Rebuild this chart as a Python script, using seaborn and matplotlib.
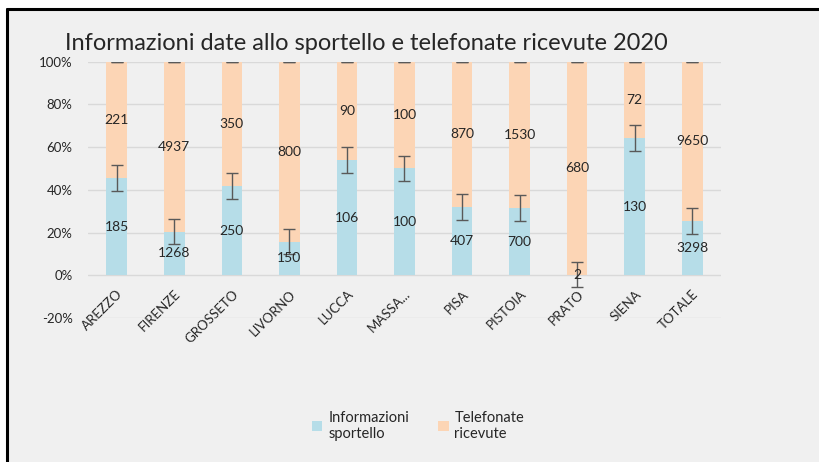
"""Informazioni sportello vs telefonate ricevute 2020 - 100% stacked bars."""

import matplotlib

matplotlib.use("agg")
import matplotlib.pyplot as plt
import numpy as np
import pandas as pd
import seaborn as sns
from matplotlib.lines import Line2D
from matplotlib.patches import Patch, Rectangle

CATEGORIES = ["AREZZO", "FIRENZE", "GROSSETO", "LIVORNO", "LUCCA", "MASSA...",
              "PISA", "PISTOIA", "PRATO", "SIENA", "TOTALE"]
SPORTELLO = [185, 1268, 250, 150, 106, 100, 407, 700, 2, 130, 3298]
TELEFONATE = [221, 4937, 350, 800, 90, 100, 870, 1530, 680, 72, 9650]
ERR = 0.06
Y_TICKS = [-0.2, 0, 0.2, 0.4, 0.6, 0.8, 1.0]

TITLE = "Informazioni date allo sportello e telefonate ricevute 2020"
BLUE = "#b6dde8"
PEACH = "#fcd5b5"
BG = "#f0f0f0"
TEXT = "#262626"


def main():
    sns.set_theme(style="white")
    plt.rcParams["font.family"] = ["Lato", "DejaVu Sans"]

    df = pd.DataFrame({"cat": CATEGORIES, "sp": SPORTELLO, "tel": TELEFONATE})
    df["total"] = df["sp"] + df["tel"]
    df["p_sp"] = df["sp"] / df["total"]
    df["p_tot"] = (df["sp"] + df["tel"]) / df["total"]

    fig = plt.figure(figsize=(8.2, 4.62), dpi=100, facecolor="white")
    # chart area frame (grey panel, black edge on left and top)
    fig.patches.append(Rectangle((7 / 820, 0), 1, 1 - 9 / 462, transform=fig.transFigure,
                                 facecolor=BG, edgecolor="none", zorder=-10))
    fig.lines.append(Line2D([7 / 820, 7 / 820], [0, 1 - 9 / 462], transform=fig.transFigure,
                            color="black", lw=2.2))
    fig.lines.append(Line2D([7 / 820, 1], [1 - 9 / 462, 1 - 9 / 462], transform=fig.transFigure,
                            color="black", lw=2.2))

    ax = fig.add_axes([88 / 820, 1 - 318 / 462, (721 - 88) / 820, (318 - 61.7) / 462])
    ax.set_facecolor(BG)

    sns.barplot(data=df, x="cat", y="p_tot", color=PEACH, width=0.36, saturation=1,
                linewidth=0, ax=ax, zorder=2)
    sns.barplot(data=df, x="cat", y="p_sp", color=BLUE, width=0.36, saturation=1,
                linewidth=0, ax=ax, zorder=3)

    x = np.arange(len(df))
    ax.errorbar(x, df["p_sp"], yerr=ERR, fmt="none", ecolor="#595959", elinewidth=1,
                capsize=4, capthick=1, zorder=4)
    ax.errorbar(x, df["p_tot"], yerr=0, fmt="none", ecolor="#595959", elinewidth=1,
                capsize=4, capthick=1, zorder=4)

    for i, row in df.iterrows():
        ax.text(i, row["p_sp"] / 2, str(row["sp"]), ha="center", va="center",
                fontsize=10, color=TEXT, zorder=5)
        ax.text(i, (row["p_sp"] + row["p_tot"]) / 2, str(row["tel"]), ha="center", va="center",
                fontsize=10, color=TEXT, zorder=5)

    ax.set_ylim(-0.2, 1.0)
    ax.set_xlim(-0.5, len(df) - 0.5)
    ax.set_yticks(Y_TICKS)
    ax.set_yticklabels([f"{int(round(v * 100))}%" for v in Y_TICKS], fontsize=9.5, color=TEXT)
    ax.yaxis.grid(True, color="#d9d9d9", lw=1, zorder=0)
    ax.set_axisbelow(True)
    for s in ax.spines.values():
        s.set_visible(False)
    ax.spines["bottom"].set_position(("data", 0))
    ax.set_xticks(x)
    ax.set_xticklabels(CATEGORIES, rotation=45, ha="right", rotation_mode="anchor",
                       fontsize=9.5, color=TEXT)
    ax.tick_params(axis="x", length=0, pad=9)
    ax.tick_params(axis="y", length=0, pad=11)
    ax.set_xlabel("")
    ax.set_ylabel("")

    fig.text(65 / 820, 1 - 43 / 462, TITLE, fontsize=17, color=TEXT, ha="left", va="center")

    handles = [Patch(facecolor=BLUE, edgecolor="none"), Patch(facecolor=PEACH, edgecolor="none")]
    fig.legend(handles, ["Informazioni\nsportello", "Telefonate\nricevute"], loc="center",
               bbox_to_anchor=(0.51, 0.078), ncol=2, frameon=False, fontsize=10.5,
               handlelength=0.7, handleheight=0.7, handletextpad=0.4, columnspacing=2.0,
               labelcolor=TEXT)

    fig.savefig("out.png", dpi=100, facecolor="white")
    plt.close(fig)


if __name__ == "__main__":
    main()
